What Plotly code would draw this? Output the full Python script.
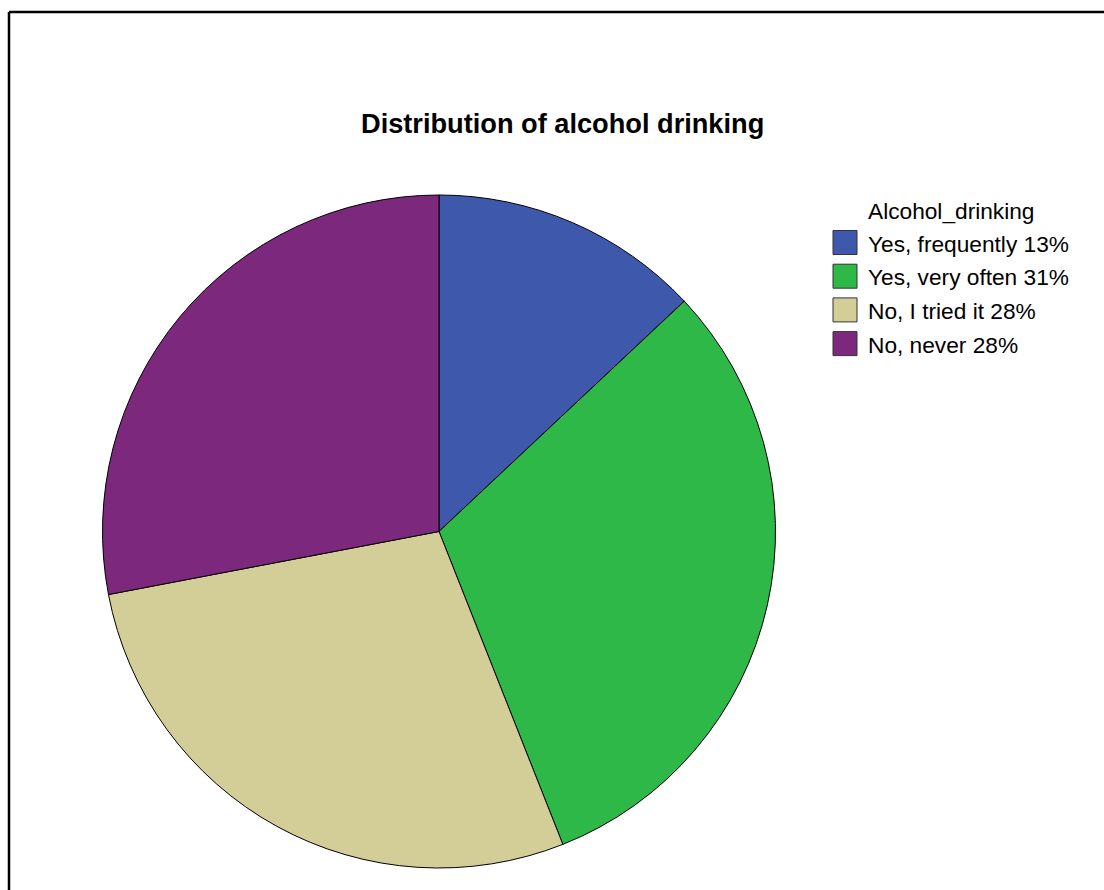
import plotly.graph_objects as go

# Survey answers and their shares (percent)
categories = ["Yes, frequently", "Yes, very often", "No, I tried it", "No, never"]
shares = [13, 31, 28, 28]
colors = ["#3E58AC", "#2EB848", "#D3CE97", "#7C287D"]
legend_title = "Alcohol_drinking"
chart_title = "Distribution of alcohol drinking"

W, H = 1104, 890
FONT = "Liberation Sans, Arial, sans-serif"


def px_x(x):
    return x / W


def px_y(y):
    return 1 - y / H


# Pie geometry in pixels
cx, cy, r = 439, 531.5, 336.5

fig = go.Figure(
    go.Pie(
        labels=categories,
        values=shares,
        sort=False,
        direction="clockwise",
        rotation=0,
        marker=dict(colors=colors, line=dict(color="black", width=1)),
        textinfo="none",
        hoverinfo="label+percent",
        showlegend=False,
        domain=dict(x=[px_x(cx - r), px_x(cx + r)], y=[px_y(cy + r), px_y(cy - r)]),
    )
)

shapes = [
    # frame around the chart
    dict(type="line", xref="paper", yref="paper", x0=px_x(9), x1=1.02, y0=px_y(12), y1=px_y(12),
         line=dict(color="black", width=2.5)),
    dict(type="line", xref="paper", yref="paper", x0=px_x(9), x1=px_x(9), y0=px_y(12), y1=-0.02,
         line=dict(color="black", width=2.5)),
]

annotations = [
    dict(text=f"<b>{chart_title}</b>", xref="paper", yref="paper", x=px_x(562), y=px_y(123),
         xanchor="center", yanchor="middle", showarrow=False,
         font=dict(size=27.2, color="black", family=FONT)),
    dict(text=legend_title, xref="paper", yref="paper", x=px_x(866), y=px_y(211),
         xanchor="left", yanchor="middle", showarrow=False,
         font=dict(size=22.7, color="black", family=FONT)),
]

# Legend built from the category list
row0, step, sw = 242.5, 33.7, 24
for i, (cat, val, col) in enumerate(zip(categories, shares, colors)):
    yc = row0 + i * step
    shapes.append(dict(type="rect", xref="paper", yref="paper",
                       x0=px_x(833), x1=px_x(833 + sw), y0=px_y(yc - sw / 2), y1=px_y(yc + sw / 2),
                       fillcolor=col, line=dict(color="#333333", width=1)))
    annotations.append(dict(text=f"{cat} {val}%", xref="paper", yref="paper",
                            x=px_x(866), y=px_y(yc + 1), xanchor="left", yanchor="middle",
                            showarrow=False,
                            font=dict(size=22.7, color="black", family=FONT)))

fig.update_layout(
    width=W,
    height=H,
    margin=dict(l=0, r=0, t=0, b=0),
    paper_bgcolor="white",
    plot_bgcolor="white",
    shapes=shapes,
    annotations=annotations,
    font=dict(family=FONT),
)

fig.write_html("out.html")
